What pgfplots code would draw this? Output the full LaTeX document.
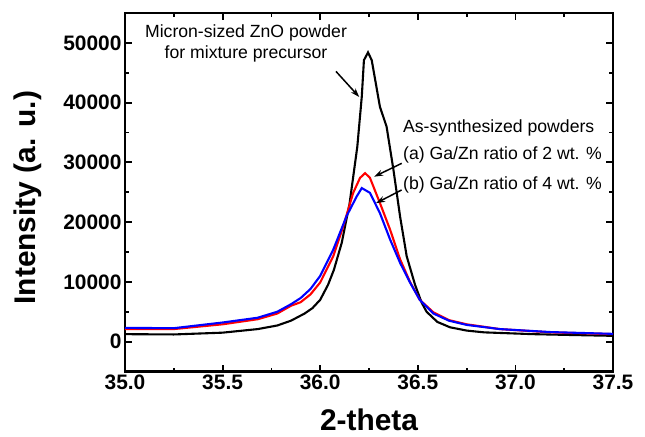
\documentclass[border=0pt]{standalone}
\usepackage{pgfplots}
\pgfplotsset{compat=1.18}
\usepackage{fontspec}
\setmainfont{Liberation Sans}
\usetikzlibrary{arrows.meta}
\begin{document}
\begin{tikzpicture}
\begin{axis}[
  scale only axis,
  width=488bp, height=358.5bp,
  xmin=35, xmax=37.5, ymin=-5000, ymax=55000,
  xtick={35,35.5,36,36.5,37,37.5},
  ytick={0,10000,20000,30000,40000,50000},
  minor x tick num=1, minor y tick num=1,
  tick align=inside,
  major tick length=7bp, minor tick length=4bp,
  axis line style={line width=2.1bp},
  every tick/.style={line width=1.8bp, black},
  scaled y ticks=false,
  /pgf/number format/assume math mode=true,
  xticklabel style={/pgf/number format/.cd, fixed, fixed zerofill, precision=1},
  yticklabel style={/pgf/number format/.cd, fixed, set thousands separator={}},
  ticklabel style={font=\fontsize{21}{25}\selectfont\bfseries},
  xlabel={2-theta}, ylabel={Intensity (a. u.)},
  label style={font=\fontsize{30}{36}\selectfont\bfseries},
  xlabel style={at={(axis description cs:0.5,-0.135)}, anchor=center},
  ylabel style={at={(axis description cs:-0.2,0.485)}, anchor=center},
  clip=true,
]
\addplot[black, line width=2.1bp] coordinates {
(35.0,1250) (35.25,1200) (35.5,1500) (35.68,2100) (35.78,2700) (35.85,3500) (35.92,4700) (35.96,5600) (36.0,7000)
(36.04,9500) (36.07,12000) (36.11,16500) (36.15,23000) (36.19,32600) (36.213,41000) (36.224,47100)
(36.245,48400) (36.264,47100) (36.306,39300) (36.34,36000) (36.375,28800) (36.409,21000)
(36.443,14300) (36.486,9500) (36.52,6500) (36.545,5000) (36.6,3300) (36.665,2400) (36.75,1850) (36.84,1550)
(37.09,1250) (37.3,1100) (37.5,970)
};
\addplot[red, line width=2.1bp] coordinates {
(35.0,2100) (35.25,2100) (35.5,2900) (35.68,3750) (35.78,4700) (35.85,6000) (35.9,6600) (35.95,7900) (36.0,9900)
(36.067,14300) (36.118,19300) (36.169,24900) (36.204,27400) (36.23,28200) (36.255,27400)
(36.306,23200) (36.358,18750) (36.409,13800) (36.46,10000) (36.51,7000) (36.58,4900)
(36.66,3600) (36.75,2900) (36.92,2100) (37.18,1550) (37.5,1250)
};
\addplot[blue, line width=2.1bp] coordinates {
(35.0,2300) (35.25,2250) (35.5,3200) (35.68,4000) (35.78,5000) (35.85,6250) (35.9,7300) (35.95,8800) (36.0,11000)
(36.067,15400) (36.135,21000) (36.187,24300) (36.213,25700) (36.255,24900) (36.306,21500)
(36.358,17100) (36.409,13200) (36.46,9900) (36.51,7000) (36.58,4700) (36.66,3500)
(36.75,2800) (36.92,2100) (37.18,1600) (37.5,1300)
};
\node[align=center, font=\fontsize{17.7}{21}\selectfont] at (axis cs:35.62,49950) {Micron-sized ZnO powder\\for mixture precursor};
\node[anchor=west, inner sep=0pt, font=\fontsize{17.7}{21}\selectfont] at (axis cs:36.424,35700) {As-synthesized powders};
\node[anchor=west, inner sep=0pt, font=\fontsize{17.7}{21}\selectfont] at (axis cs:36.424,31220) {(a) Ga/Zn ratio of 2 wt. \%};
\node[anchor=west, inner sep=0pt, font=\fontsize{17.7}{21}\selectfont] at (axis cs:36.424,26220) {(b) Ga/Zn ratio of 4 wt. \%};
\draw[line width=1.5bp, -{Stealth[length=9bp,width=6bp]}] (axis cs:36.081,45220) -- (axis cs:36.2,40940);
\draw[line width=1.5bp, -{Stealth[length=9bp,width=6bp]}] (axis cs:36.4175,29840) -- (axis cs:36.276,27600);
\draw[line width=1.5bp, -{Stealth[length=9bp,width=6bp]}] (axis cs:36.4175,25390) -- (axis cs:36.286,23170);
\end{axis}
\path (current axis.south west) ++(-125bp,-65.5bp) rectangle ++(645bp,437bp);
\end{tikzpicture}
\end{document}
